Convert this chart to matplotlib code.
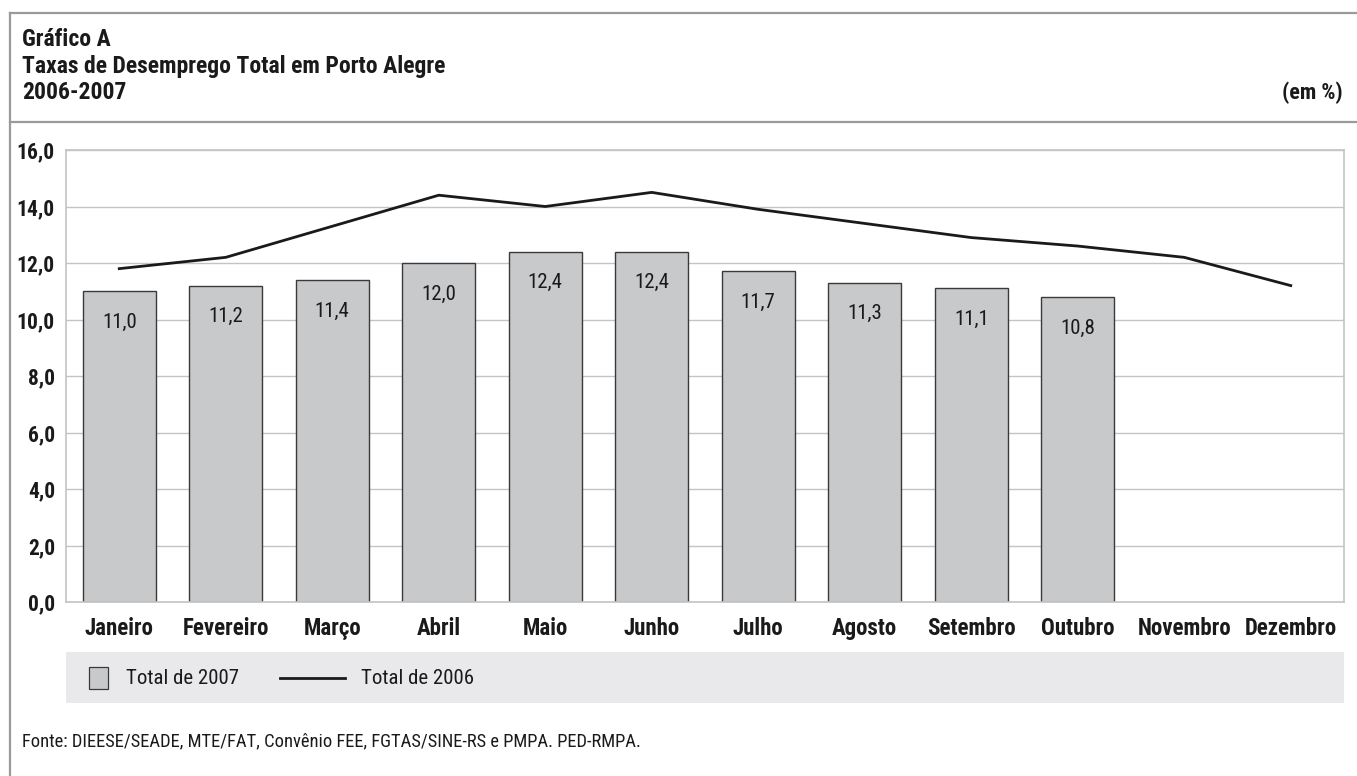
import matplotlib
matplotlib.use("Agg")
import matplotlib.pyplot as plt
from matplotlib.patches import Rectangle
from matplotlib.lines import Line2D
from matplotlib.ticker import FuncFormatter, MultipleLocator
from matplotlib import font_manager

nomes = {f.name for f in font_manager.fontManager.ttflist}
familia = [n for n in ['Liberation Sans Narrow', 'DejaVu Sans Condensed', 'Roboto Condensed',
                       'Roboto', 'DejaVu Sans'] if n in nomes]
plt.rcParams['font.family'] = familia[:1] + ['DejaVu Sans']

months = ['Janeiro', 'Fevereiro', 'Março', 'Abril', 'Maio', 'Junho',
          'Julho', 'Agosto', 'Setembro', 'Outubro', 'Novembro', 'Dezembro']
total_2007 = [11.0, 11.2, 11.4, 12.0, 12.4, 12.4, 11.7, 11.3, 11.1, 10.8]
total_2006 = [11.8, 12.2, 13.3, 14.4, 14.0, 14.5, 13.9, 13.4, 12.9, 12.6, 12.2, 11.2]
titulo = ['Gráfico A', 'Taxas de Desemprego Total em Porto Alegre', '2006-2007']

W, H = 1357, 776
fig = plt.figure(figsize=(W / 100, H / 100), dpi=100)
escuro = '#1a1a1a'

# moldura e cabeçalho
frame = '#9a9a9a'
fig.add_artist(Line2D([10 / W, 10 / W], [0, 1 - 13 / H], color=frame, lw=1.6))
fig.add_artist(Line2D([10 / W, 1], [1 - 13 / H, 1 - 13 / H], color=frame, lw=1.6))
fig.add_artist(Line2D([10 / W, 1], [1 - 122 / H, 1 - 122 / H], color=frame, lw=1.6))

for i, linha in enumerate(titulo):
    fig.text(22 / W, 1 - (46 + 26.5 * i) / H, linha, ha='left', va='baseline',
             fontsize=17, fontweight='bold', color=escuro)
fig.text(1343 / W, 1 - 99 / H, '(em %)', ha='right', va='baseline', fontsize=16,
         fontweight='bold', color=escuro)

ax = fig.add_axes([66 / W, 1 - 602 / H, (1344 - 66) / W, (602 - 150) / H])
x = list(range(len(months)))

ax.bar(x[:len(total_2007)], total_2007, width=0.69, color='#c8c9cb',
       edgecolor='#3a3a3a', linewidth=1.0, zorder=2)
ax.plot(x, total_2006, color=escuro, lw=2.0, zorder=3)

for xi, v in zip(x, total_2007):
    ax.text(xi, v - 1.1, f'{v:.1f}'.replace('.', ','), ha='center', va='center',
            fontsize=15, color=escuro, zorder=4)

ax.set_xlim(-0.5, len(months) - 0.5)
ax.set_ylim(0, 16)
ax.yaxis.set_major_locator(MultipleLocator(2))
ax.yaxis.set_major_formatter(FuncFormatter(lambda v, p: f'{v:.1f}'.replace('.', ',')))
ax.set_xticks(x)
ax.set_xticklabels(months)
ax.tick_params(length=0, colors=escuro)
ax.tick_params(axis='x', pad=11, labelsize=16.5)
ax.tick_params(axis='y', pad=8, labelsize=15.5)
for lab in ax.get_xticklabels() + ax.get_yticklabels():
    lab.set_fontweight('bold')
ax.grid(axis='y', color='#c4c4c4', lw=1.0, zorder=0)
for s in ax.spines.values():
    s.set_color('#c4c4c4')
    s.set_linewidth(1.2)

# faixa da legenda
fig.add_artist(Rectangle((66 / W, 1 - 703 / H), (1344 - 66) / W, 51 / H,
                         facecolor='#e9e9eb', edgecolor='none'))
fig.add_artist(Rectangle((89 / W, 1 - 689 / H), 19 / W, 22 / H,
                         facecolor='#c8c9cb', edgecolor='#3a3a3a', lw=0.9))
fig.text(126 / W, 1 - 678 / H, 'Total de 2007', ha='left', va='center',
         fontsize=15, color=escuro)
fig.add_artist(Line2D([280 / W, 345 / W], [1 - 678 / H, 1 - 678 / H],
                      color=escuro, lw=2.0))
fig.text(361 / W, 1 - 678 / H, 'Total de 2006', ha='left', va='center',
         fontsize=15, color=escuro)

fig.text(22 / W, 1 - 741 / H,
         'Fonte: DIEESE/SEADE, MTE/FAT, Convênio FEE, FGTAS/SINE-RS e PMPA. PED-RMPA.',
         ha='left', va='center', fontsize=13.3, color=escuro)

fig.savefig('out.png', dpi=100, facecolor='white')
